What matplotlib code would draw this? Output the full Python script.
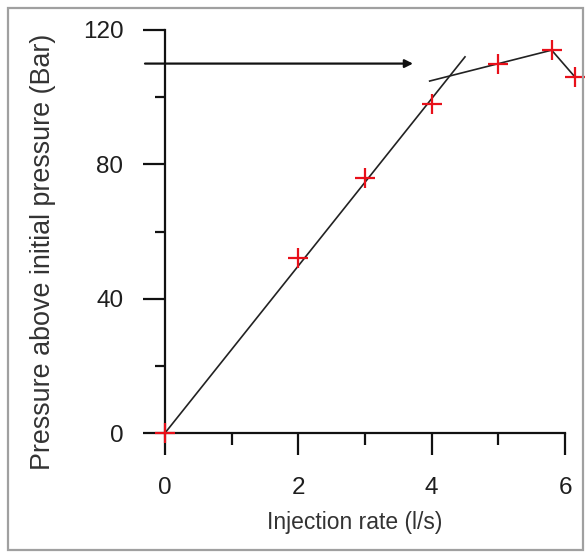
import matplotlib
matplotlib.use("Agg")
import matplotlib.pyplot as plt
from matplotlib.patches import Rectangle
from matplotlib.ticker import MultipleLocator

# Measured step-rate test points
rate = [0, 2, 3, 4, 5, 5.8, 6.15]
pressure = [0, 52, 76, 98, 110, 114, 106]

# Straight-line trend through the low-rate (matrix) points
matrix_rate = [0, 4.5]
matrix_pressure = [0, 112]

# Trend after the break (fracture extension), then the last drop
frac_rate = [3.97, 5.8, 6.15]
frac_pressure = [104.8, 114, 106]

# Arrow marking the extension pressure read on the y axis
arrow_y = 110
arrow_from_x = -0.3
arrow_to_x = 3.72

x_ticks = [0, 2, 4, 6]
y_ticks = [0, 40, 80, 120]

plt.rcParams['font.family'] = ['Liberation Sans', 'DejaVu Sans']

W, H = 586, 555
fig = plt.figure(figsize=(W / 100, H / 100), dpi=100)

# axes placed so that x=0 -> 165 px, x=6 -> 565 px ; y=0 -> 433 px, y=120 -> 30 px
px_per_x = 400 / 6
left = 165 / W
width = (6.3 * px_per_x) / W
bottom = (H - 433) / H
height = (433 - 30) / H
ax = fig.add_axes([left, bottom, width, height])
ax.set_xlim(0, 6.3)
ax.set_ylim(0, 120)

for s in ("top", "right"):
    ax.spines[s].set_visible(False)
ax.spines["left"].set_bounds(0, 120)
ax.spines["bottom"].set_bounds(0, 6)
for s in ("left", "bottom"):
    ax.spines[s].set_linewidth(1.6)
    ax.spines[s].set_color("#111111")

ax.set_xticks(x_ticks)
ax.set_yticks(y_ticks)
ax.xaxis.set_minor_locator(MultipleLocator(1))
ax.yaxis.set_minor_locator(MultipleLocator(20))
ax.tick_params(axis="x", which="major", direction="out", length=16, width=1.6,
               pad=16, labelsize=17.5, colors="#111111", labelcolor="#1e1e1e")
ax.tick_params(axis="x", which="minor", direction="out", length=8.5, width=1.6,
               colors="#111111")
ax.tick_params(axis="y", which="major", direction="out", length=16, width=1.6,
               pad=14, labelsize=17.5, colors="#111111", labelcolor="#1e1e1e")
ax.tick_params(axis="y", which="minor", direction="out", length=7, width=1.6,
               colors="#111111")

# trend lines
ax.plot(matrix_rate, matrix_pressure, color="#222222", lw=1.2, clip_on=False, zorder=2)
ax.plot(frac_rate, frac_pressure, color="#222222", lw=1.2, clip_on=False, zorder=2)

# data points
ax.plot(rate, pressure, linestyle="none", marker="+", markersize=14,
        markeredgewidth=1.6, color="#e8101a", clip_on=False, zorder=3)

# arrow
ax.annotate("", xy=(arrow_to_x, arrow_y), xytext=(arrow_from_x, arrow_y),
            arrowprops=dict(arrowstyle="-|>", color="#111111", lw=1.6,
                            mutation_scale=12, shrinkA=0, shrinkB=0),
            annotation_clip=False)

fig.text(355 / W, 1 - 522 / H, "Injection rate (l/s)", ha="center", va="center",
         fontsize=16.5, color="#333333")
fig.text(43 / W, 1 - 252 / H, "Pressure above initial pressure (Bar)", ha="center",
         va="center", rotation=90, fontsize=19.4, color="#333333")

# frame around the whole figure
fig.patches.append(Rectangle((8 / W, 1 - 550 / H), (583 - 8) / W, (550 - 8) / H,
                             transform=fig.transFigure, fill=False,
                             edgecolor="#a0a0a0", lw=1.6))

fig.savefig("out.png", dpi=100)
